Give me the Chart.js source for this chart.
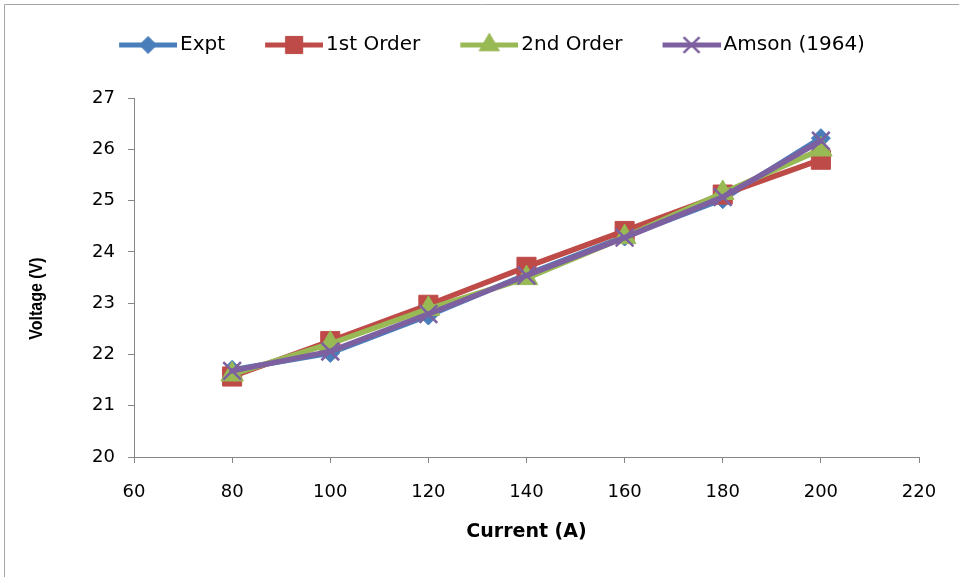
<!DOCTYPE html>
<html>
<head>
<meta charset="utf-8">
<script src="https://cdn.jsdelivr.net/npm/chart.js@4/dist/chart.umd.min.js"></script>
<style>
  html, body { margin: 0; padding: 0; background: #ffffff; }
  #wrap { width: 959px; height: 577px; }
</style>
</head>
<body>
<div id="wrap"><canvas id="chart" width="959" height="577"></canvas></div>
<script>
// Arc voltage against welding current
const currents = [80, 100, 120, 140, 160, 180, 200];
const expt      = [21.70, 22.03, 22.76, 23.56, 24.30, 25.03, 26.22];
const firstOrd  = [21.57, 22.26, 22.97, 23.71, 24.41, 25.12, 25.80];
const secondOrd = [21.61, 22.21, 22.89, 23.49, 24.29, 25.15, 26.00];
const amson     = [21.68, 22.06, 22.79, 23.54, 24.28, 25.07, 26.17];

const seriesNames = ['Expt', '1st Order', '2nd Order', 'Amson (1964)'];
const xTicks = [60, 80, 100, 120, 140, 160, 180, 200, 220];
const yTicks = [20, 21, 22, 23, 24, 25, 26, 27];
const xTitle = 'Current (A)';
const yTitle = 'Voltage (V)';

const colors = ['#4A7EBB', '#BE4B48', '#98B954', '#7D60A0'];
const styles = ['rectRot', 'rect', 'triangle', 'crossRot'];
const radii = [9.5, 13.5, 13, 12.5];
const values = [expt, firstOrd, secondOrd, amson];

// Draw one marker shape on a 2D context
function marker(ctx, style, x, y, r, color) {
  ctx.save();
  ctx.fillStyle = color;
  ctx.strokeStyle = color;
  ctx.lineWidth = 1;
  ctx.beginPath();
  if (style === 'rectRot') {
    ctx.moveTo(x, y - r); ctx.lineTo(x + r, y); ctx.lineTo(x, y + r); ctx.lineTo(x - r, y);
    ctx.closePath(); ctx.fill(); ctx.stroke();
  } else if (style === 'rect') {
    const s = r * Math.SQRT1_2;
    ctx.rect(x - s, y - s, 2 * s, 2 * s); ctx.fill(); ctx.stroke();
  } else if (style === 'triangle') {
    ctx.moveTo(x, y - r);
    ctx.lineTo(x + r * Math.sin(2 * Math.PI / 3), y - r * Math.cos(2 * Math.PI / 3));
    ctx.lineTo(x + r * Math.sin(4 * Math.PI / 3), y - r * Math.cos(4 * Math.PI / 3));
    ctx.closePath(); ctx.fill(); ctx.stroke();
  } else {
    const d = r * Math.SQRT1_2;
    ctx.lineWidth = 2.5;
    ctx.moveTo(x - d, y - d); ctx.lineTo(x + d, y + d);
    ctx.moveTo(x + d, y - d); ctx.lineTo(x - d, y + d);
    ctx.stroke();
  }
  ctx.restore();
}

// Legend swatch: a short thick line with the series marker on it
const SW_BOX = 76, SW_W = SW_BOX + 14, SW_H = 28, SW_LINE = 58;
function swatch(i) {
  const c = document.createElement('canvas');
  c.width = SW_W; c.height = SW_H;
  const ctx = c.getContext('2d');
  const x0 = SW_W - SW_LINE, cy = SW_H / 2;
  ctx.strokeStyle = colors[i];
  ctx.lineWidth = 5;
  ctx.lineCap = 'butt';
  ctx.beginPath(); ctx.moveTo(x0, cy); ctx.lineTo(SW_W, cy); ctx.stroke();
  marker(ctx, styles[i], x0 + SW_LINE / 2, cy, radii[i] * 0.9, colors[i]);
  return c;
}
const swatches = seriesNames.map((_, i) => swatch(i));

const datasets = seriesNames.map((name, i) => ({
  label: name,
  data: currents.map((x, k) => ({ x: x, y: values[i][k] })),
  borderColor: colors[i],
  backgroundColor: colors[i],
  borderWidth: 5.5,
  borderJoinStyle: 'round',
  borderCapStyle: 'round',
  tension: 0,
  fill: false,
  pointStyle: styles[i],
  pointRadius: radii[i],
  pointBackgroundColor: colors[i],
  pointBorderColor: colors[i],
  pointBorderWidth: styles[i] === 'crossRot' ? 2.5 : 1,
  // later series sit on top of earlier ones
  order: seriesNames.length - 1 - i
}));

// Outer chart frame and the vertical axis title
const decorations = {
  id: 'decorations',
  beforeDraw(chart) {
    const ctx = chart.ctx;
    ctx.save();
    ctx.fillStyle = '#ffffff';
    ctx.fillRect(0, 0, chart.width, chart.height);
    ctx.strokeStyle = '#A6A6A6';
    ctx.lineWidth = 1;
    ctx.beginPath();
    ctx.moveTo(4.5, chart.height); ctx.lineTo(4.5, 4.5); ctx.lineTo(chart.width, 4.5);
    ctx.stroke();
    ctx.restore();
  },
  afterDraw(chart) {
    const ctx = chart.ctx;
    const area = chart.chartArea;
    ctx.save();
    ctx.translate(37, (area.top + area.bottom) / 2 + 21);
    ctx.rotate(-Math.PI / 2);
    ctx.scale(1, 1.2);
    ctx.fillStyle = '#000000';
    ctx.font = 'bold 16px "Liberation Sans"';
    ctx.textAlign = 'center';
    ctx.textBaseline = 'middle';
    ctx.fillText(yTitle, 0, 0);
    ctx.restore();
  }
};

new Chart(document.getElementById('chart'), {
  type: 'line',
  data: { datasets: datasets },
  plugins: [decorations],
  options: {
    responsive: false,
    animation: false,
    events: [],
    layout: { padding: { top: 20, left: 40, right: 40, bottom: 30 } },
    plugins: {
      tooltip: { enabled: false },
      // empty spacer between the legend and the plot
      title: { display: true, text: '', weight: 500, font: { size: 1 }, padding: { top: 0, bottom: 32 } },
      legend: {
        position: 'top',
        weight: 1000,
        labels: {
          usePointStyle: true,
          pointStyleWidth: SW_BOX,
          padding: 15,
          color: '#000000',
          font: { family: 'DejaVu Sans', size: 20 },
          generateLabels: (chart) => chart.data.datasets.map((ds, i) => ({
            text: ds.label,
            pointStyle: swatches[i],
            fillStyle: colors[i],
            strokeStyle: colors[i],
            lineWidth: 0,
            hidden: false,
            datasetIndex: i,
            fontColor: '#000000'
          }))
        }
      }
    },
    scales: {
      x: {
        type: 'linear',
        min: xTicks[0],
        max: xTicks[xTicks.length - 1],
        afterBuildTicks: (s) => { s.ticks = xTicks.map(v => ({ value: v })); },
        afterFit: (s) => { s.height = 90; },
        ticks: { color: '#000000', padding: 19, font: { family: 'DejaVu Sans', size: 18 } },
        grid: { drawOnChartArea: false, drawTicks: true, tickLength: 6, tickColor: '#868686' },
        border: { color: '#868686', width: 1 },
        title: {
          display: true, text: xTitle, color: '#000000',
          font: { family: 'DejaVu Sans', size: 19, weight: 'bold' },
          padding: { top: 4, bottom: 4 }
        }
      },
      y: {
        type: 'linear',
        min: yTicks[0],
        max: yTicks[yTicks.length - 1],
        afterBuildTicks: (s) => { s.ticks = yTicks.map(v => ({ value: v })); },
        afterFit: (s) => { s.width = 94; },
        ticks: { color: '#000000', padding: 13, font: { family: 'DejaVu Sans', size: 18 } },
        grid: { drawOnChartArea: false, drawTicks: true, tickLength: 6, tickColor: '#868686' },
        border: { color: '#868686', width: 1 },
        title: { display: false }
      }
    }
  }
});
</script>
</body>
</html>
